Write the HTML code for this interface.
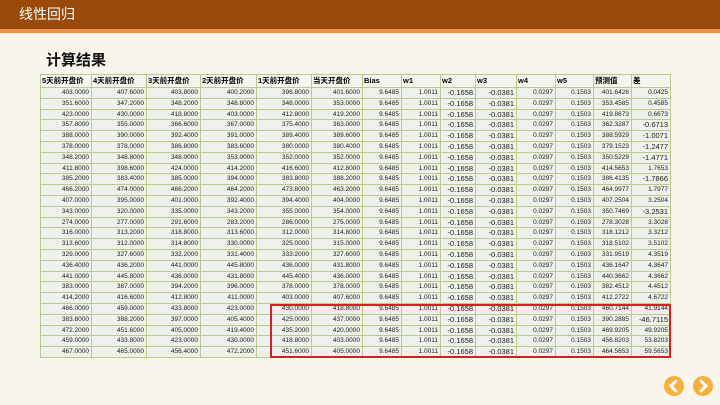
<!DOCTYPE html>
<html><head><meta charset="utf-8">
<style>
html,body{margin:0;padding:0}
body{width:720px;height:405px;overflow:hidden;background:#f8f6ea;position:relative;font-family:"Liberation Sans","Noto Sans CJK SC",sans-serif}
#hdr{position:absolute;left:0;top:0;width:720px;height:29px;background:#9a4a0a;color:#fff;font-size:14px;line-height:29px;padding-left:19px;box-sizing:border-box}
#strip{position:absolute;left:0;top:29px;width:720px;height:4px;background:#f0904a}
#title{position:absolute;left:46px;top:49px;font-size:15px;font-weight:bold;color:#111}
#tbl{position:absolute;left:0;top:0}
.c{position:absolute;box-sizing:border-box;border-right:1px solid #b9cc8c;border-bottom:1px solid #b9cc8c;background:#eef0ea;font-size:6.5px;color:#222;text-align:right;padding-right:2px;white-space:nowrap;overflow:hidden}
.h{background:#f4f6ee;font-weight:bold;font-size:7.5px;text-align:left;padding-left:1px;color:#000}
.big{font-size:7.5px}
#redbox{position:absolute;left:270px;top:304px;width:401px;height:54px;border:2px solid #d42020;box-sizing:border-box}
.nav{position:absolute;top:376px;width:20px;height:20px;border-radius:50%;background:#f7b040}
.nav svg{position:absolute;left:0;top:0}
</style></head><body>
<div id="hdr">线性回归</div>
<div id="strip"></div>
<div id="title">计算结果</div>
<div id="tbl"></div>
<div id="redbox"></div>
<div class="nav" style="left:664px"><svg width="20" height="20"><path d="M12 5 L7 10 L12 15" stroke="#fff" stroke-width="3" fill="none" stroke-linecap="round"/></svg></div>
<div class="nav" style="left:693px"><svg width="20" height="20"><path d="M8 5 L13 10 L8 15" stroke="#fff" stroke-width="3" fill="none" stroke-linecap="round"/></svg></div>
<script>
const headers=["5天前开盘价","4天前开盘价","3天前开盘价","2天前开盘价","1天前开盘价","当天开盘价","Bias","w1","w2","w3","w4","w5","预测值","差"];
const d5=[403,351.6,423,357.8,388,378,348.2,411.8,385.2,466.2,407,343,274,316,313.6,329,436.4,441,383,414.2,466,383.8,472.2,459,467];
const d4=[407.6,347.2,430,355,390,378,348.8,398.6,383.4,474,395,320,277,313.2,312,327.6,436.2,445.8,387,416.6,459,388.2,451.6,433.8,465];
const d3=[403.8,348.2,418.8,366.6,392.4,386.8,348,424,385,466.2,401,335,291.6,318.8,314.8,332.2,441,436,394.2,412.8,433.8,397,405,423,456.4];
const d2=[400.2,348.8,403,367,391,383.6,353,414.2,394,464.2,392.4,343.2,283.2,313.6,330,331.4,445.8,431.8,396,411,423,405.4,419.4,430,472.2];
const d1=[396.8,348,412.8,375.4,389.4,380,352,416.6,383.8,473.8,394.4,355,286,312,325,333.2,436,445.4,378,403,430,425,435.2,418.8,451.6];
const d0=[401.6,353,419.2,363,389.6,380.4,352,412.8,388.2,463.2,404,354,275,314.8,315,327.6,431.8,436,378,407.6,418.8,437,420,403,405];
const weights=["9.6485","1.0011","-0.1658","-0.0381","0.0297","0.1503"];
const pred=[401.6426,353.4585,419.8673,362.3287,388.5929,379.1523,350.5229,414.5653,386.4135,464.9977,407.2504,350.7469,278.3028,318.1212,318.5102,331.9519,436.1647,440.3662,382.4512,412.2722,460.7144,390.2885,469.9205,456.8203,464.5653];
const diff=["0.0425","0.4585","0.6673","-0.6713","-1.0071","-1.2477","-1.4771","1.7653","-1.7866","1.7977","3.2504","-3.2531","3.3028","3.3212","3.5102","4.3519","4.3647","4.3662","4.4512","4.6722","41.9144","-46.7115","49.9205","53.8203","59.5653"];
const colX=[41,92,147,201,257,312,363,402,441,476,517,556,594,632,671];
const tbl=document.getElementById('tbl');
const top0=75,hh=13,rh=10.8;
function cell(x,y,w,h,txt,cls,name){
  const e=document.createElement('div');
  e.className='c '+cls;
  e.style.left=x+'px';e.style.top=y+'px';e.style.width=w+'px';e.style.height=h+'px';
  e.style.lineHeight=(h-1)+'px';
  e.textContent=txt;
  
  
  tbl.appendChild(e);
}
for(let j=0;j<headers.length;j++){
  cell(colX[j],top0,colX[j+1]-colX[j],hh,headers[j],'h','column-header');
}
const cols=[d5,d4,d3,d2,d1,d0];
for(let i=0;i<d5.length;i++){
  const y=Math.round(top0+hh+i*rh);
  const yn=Math.round(top0+hh+(i+1)*rh);
  const vals=[];
  for(const c of cols) vals.push(c[i].toFixed(4));
  for(const w of weights) vals.push(w);
  vals.push(pred[i].toFixed(4));
  vals.push(diff[i]);
  for(let j=0;j<vals.length;j++){
    let cls='';
    if(j===8||j===9||(j===13&&vals[j][0]==='-'))cls='big';
    cell(colX[j],y,colX[j+1]-colX[j],yn-y,vals[j],cls,'table-cell');
  }
}
const lb=document.createElement('div');
lb.style.cssText='position:absolute;left:40px;top:74px;width:1px;height:284px;background:#b9cc8c';


tbl.appendChild(lb);
const tb=document.createElement('div');
tb.style.cssText='position:absolute;left:40px;top:74px;width:631px;height:1px;background:#b9cc8c';


tbl.appendChild(tb);
</script>
</body></html>
